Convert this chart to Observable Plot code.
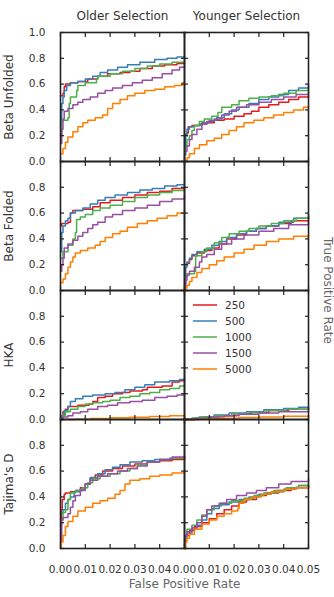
<!DOCTYPE html>
<html><head><meta charset="utf-8">
<script src="https://cdn.jsdelivr.net/npm/d3@7"></script>
<script src="https://cdn.jsdelivr.net/npm/@observablehq/plot@0.6"></script>
<style>
body{margin:0;background:#fff;}
#chart{position:relative;width:334px;height:597px;font-family:"DejaVu Sans",sans-serif;}
#legend{position:absolute;left:193px;top:297px;font-size:10.5px;color:#333;}
#legend .item{display:flex;align-items:center;height:16px;}
#legend svg{margin-right:8px;}
</style>
</head><body><div id="chart"></div>
<script>
const columns = ["Older Selection", "Younger Selection"];
const rows = ["Beta Unfolded", "Beta Folded", "HKA", "Tajima's D"];
const sizes = ["250", "500", "1000", "1500", "5000"];
const colors = ["#e41a1c", "#377eb8", "#4daf4a", "#984ea3", "#ff7f00"];
const xTickLabels = [0, 0.01, 0.02, 0.03, 0.04];
const xTickLabelsLast = [0.05];
const xTickMarks = [0, 0.01, 0.02, 0.03, 0.04, 0.05];
const yTickLabels = [0, 0.2, 0.4, 0.6, 0.8];
const yTickLabelsTop = [1.0];
const yTickMarks = [0, 0.2, 0.4, 0.6, 0.8, 1.0];
const xLabel = "False Positive Rate";
const yLabel = "True Positive Rate";

// [fpr, tpr] pairs
const betaUnfoldedOlder = {
  "250": [[0,0.51],[0.001,0.53],[0.0015,0.58],[0.002,0.6],[0.004,0.61],[0.007,0.62],[0.011,0.64],[0.015,0.66],[0.019,0.68],[0.024,0.69],[0.028,0.7],[0.032,0.72],[0.037,0.74],[0.042,0.75],[0.047,0.76],[0.05,0.77]],
  "500": [[0,0.3],[0.0005,0.45],[0.001,0.5],[0.0015,0.55],[0.0025,0.59],[0.004,0.61],[0.007,0.62],[0.01,0.64],[0.013,0.66],[0.016,0.69],[0.019,0.71],[0.023,0.73],[0.027,0.75],[0.032,0.77],[0.038,0.79],[0.043,0.8],[0.047,0.81],[0.05,0.82]],
  "1000": [[0,0.2],[0.0005,0.32],[0.003,0.34],[0.0035,0.45],[0.004,0.5],[0.0065,0.55],[0.007,0.59],[0.01,0.61],[0.0145,0.64],[0.015,0.66],[0.02,0.68],[0.025,0.7],[0.03,0.72],[0.035,0.74],[0.04,0.755],[0.045,0.77],[0.05,0.78]],
  "1500": [[0,0.14],[0.0005,0.25],[0.001,0.33],[0.0015,0.39],[0.003,0.41],[0.005,0.44],[0.007,0.46],[0.009,0.48],[0.012,0.5],[0.015,0.53],[0.018,0.55],[0.021,0.57],[0.025,0.59],[0.029,0.61],[0.033,0.63],[0.037,0.65],[0.041,0.68],[0.045,0.71],[0.048,0.73],[0.05,0.74]],
  "5000": [[0,0.06],[0.001,0.1],[0.002,0.15],[0.003,0.19],[0.005,0.23],[0.007,0.27],[0.009,0.3],[0.011,0.32],[0.014,0.34],[0.017,0.36],[0.019,0.41],[0.021,0.45],[0.024,0.48],[0.027,0.51],[0.03,0.53],[0.034,0.55],[0.038,0.56],[0.042,0.58],[0.046,0.59],[0.049,0.61],[0.05,0.61]]
};
const betaUnfoldedYounger = {
  "250": [[0,0.21],[0.001,0.22],[0.0015,0.27],[0.003,0.28],[0.006,0.29],[0.009,0.3],[0.012,0.32],[0.016,0.33],[0.02,0.35],[0.024,0.37],[0.027,0.39],[0.03,0.42],[0.034,0.44],[0.038,0.46],[0.042,0.48],[0.046,0.5],[0.05,0.51]],
  "500": [[0,0.1],[0.0005,0.2],[0.001,0.25],[0.002,0.27],[0.004,0.28],[0.007,0.3],[0.01,0.32],[0.013,0.34],[0.016,0.37],[0.019,0.4],[0.022,0.42],[0.026,0.45],[0.03,0.48],[0.034,0.5],[0.038,0.52],[0.042,0.55],[0.046,0.57],[0.05,0.6]],
  "1000": [[0,0.08],[0.0005,0.12],[0.001,0.17],[0.002,0.2],[0.003,0.24],[0.004,0.28],[0.006,0.31],[0.008,0.33],[0.011,0.35],[0.0135,0.38],[0.015,0.42],[0.019,0.44],[0.022,0.47],[0.026,0.49],[0.03,0.5],[0.035,0.51],[0.04,0.53],[0.045,0.55],[0.05,0.565]],
  "1500": [[0,0.05],[0.0005,0.08],[0.001,0.12],[0.002,0.17],[0.003,0.21],[0.005,0.25],[0.007,0.29],[0.009,0.31],[0.012,0.33],[0.015,0.36],[0.018,0.39],[0.021,0.42],[0.025,0.44],[0.03,0.46],[0.035,0.48],[0.04,0.5],[0.045,0.52],[0.05,0.54]],
  "5000": [[0,0],[0.001,0.03],[0.002,0.06],[0.004,0.1],[0.006,0.13],[0.009,0.16],[0.012,0.18],[0.015,0.21],[0.018,0.24],[0.021,0.27],[0.024,0.3],[0.028,0.32],[0.032,0.34],[0.036,0.36],[0.04,0.38],[0.044,0.4],[0.048,0.42],[0.05,0.43]]
};
const betaFoldedOlder = {
  "250": [[0,0.5],[0.0005,0.52],[0.003,0.53],[0.004,0.6],[0.005,0.62],[0.009,0.63],[0.013,0.65],[0.016,0.68],[0.02,0.7],[0.025,0.72],[0.03,0.74],[0.035,0.76],[0.04,0.77],[0.045,0.79],[0.05,0.8]],
  "500": [[0,0.3],[0.0005,0.45],[0.001,0.5],[0.002,0.54],[0.003,0.56],[0.004,0.6],[0.006,0.62],[0.009,0.64],[0.012,0.67],[0.015,0.7],[0.018,0.72],[0.022,0.74],[0.027,0.76],[0.032,0.78],[0.037,0.79],[0.042,0.81],[0.047,0.82],[0.05,0.83]],
  "1000": [[0,0.25],[0.001,0.3],[0.003,0.35],[0.005,0.4],[0.006,0.45],[0.0065,0.55],[0.008,0.57],[0.01,0.59],[0.013,0.62],[0.016,0.64],[0.02,0.66],[0.025,0.69],[0.03,0.72],[0.035,0.74],[0.04,0.76],[0.045,0.775],[0.05,0.79]],
  "1500": [[0,0.15],[0.0005,0.2],[0.001,0.25],[0.0015,0.33],[0.003,0.36],[0.005,0.39],[0.007,0.42],[0.009,0.45],[0.011,0.48],[0.013,0.51],[0.015,0.53],[0.018,0.57],[0.021,0.59],[0.025,0.62],[0.03,0.64],[0.035,0.66],[0.04,0.69],[0.045,0.71],[0.05,0.735]],
  "5000": [[0,0.06],[0.001,0.09],[0.002,0.13],[0.003,0.18],[0.004,0.22],[0.005,0.26],[0.006,0.29],[0.008,0.31],[0.011,0.33],[0.014,0.35],[0.016,0.38],[0.018,0.41],[0.021,0.44],[0.024,0.46],[0.027,0.49],[0.031,0.52],[0.035,0.54],[0.039,0.56],[0.043,0.58],[0.047,0.6],[0.05,0.62]]
};
const betaFoldedYounger = {
  "250": [[0,0.2],[0.001,0.21],[0.002,0.24],[0.003,0.27],[0.005,0.29],[0.008,0.31],[0.011,0.33],[0.014,0.36],[0.017,0.4],[0.021,0.43],[0.025,0.46],[0.029,0.48],[0.033,0.5],[0.038,0.52],[0.043,0.54],[0.05,0.57]],
  "500": [[0,0.1],[0.0005,0.18],[0.001,0.22],[0.002,0.25],[0.003,0.28],[0.005,0.3],[0.008,0.32],[0.011,0.35],[0.014,0.38],[0.017,0.41],[0.021,0.44],[0.025,0.46],[0.029,0.48],[0.033,0.5],[0.038,0.53],[0.044,0.56],[0.05,0.59]],
  "1000": [[0,0.05],[0.0005,0.1],[0.001,0.13],[0.004,0.15],[0.0045,0.27],[0.007,0.3],[0.009,0.33],[0.012,0.37],[0.015,0.41],[0.018,0.44],[0.022,0.46],[0.026,0.48],[0.03,0.5],[0.035,0.52],[0.04,0.54],[0.045,0.56],[0.05,0.57]],
  "1500": [[0,0.03],[0.0005,0.08],[0.001,0.12],[0.002,0.15],[0.004,0.18],[0.006,0.22],[0.007,0.26],[0.009,0.28],[0.012,0.32],[0.015,0.36],[0.019,0.4],[0.024,0.43],[0.03,0.46],[0.036,0.48],[0.042,0.51],[0.05,0.54]],
  "5000": [[0,0],[0.0005,0.02],[0.001,0.04],[0.002,0.07],[0.003,0.1],[0.005,0.14],[0.007,0.17],[0.01,0.2],[0.013,0.23],[0.016,0.26],[0.02,0.29],[0.024,0.32],[0.028,0.35],[0.033,0.38],[0.038,0.4],[0.044,0.42],[0.05,0.43]]
};
const hkaOlder = {
  "250": [[0,0],[0.0005,0.03],[0.001,0.06],[0.002,0.08],[0.003,0.1],[0.007,0.11],[0.0115,0.12],[0.013,0.14],[0.015,0.17],[0.018,0.18],[0.021,0.2],[0.025,0.21],[0.028,0.22],[0.033,0.23],[0.035,0.25],[0.041,0.26],[0.045,0.29],[0.048,0.3],[0.05,0.32]],
  "500": [[0,0],[0.0005,0.03],[0.0015,0.07],[0.003,0.1],[0.004,0.14],[0.006,0.16],[0.009,0.18],[0.013,0.19],[0.018,0.2],[0.022,0.21],[0.026,0.23],[0.03,0.25],[0.034,0.27],[0.038,0.29],[0.044,0.3],[0.048,0.31],[0.05,0.32]],
  "1000": [[0,0],[0.001,0.03],[0.002,0.06],[0.004,0.08],[0.007,0.1],[0.01,0.12],[0.013,0.13],[0.017,0.14],[0.02,0.15],[0.024,0.17],[0.028,0.18],[0.032,0.2],[0.036,0.21],[0.04,0.23],[0.044,0.24],[0.048,0.26],[0.05,0.27]],
  "1500": [[0,0],[0.001,0.02],[0.003,0.03],[0.005,0.05],[0.008,0.06],[0.011,0.08],[0.015,0.1],[0.019,0.11],[0.023,0.13],[0.028,0.14],[0.033,0.15],[0.038,0.17],[0.043,0.18],[0.047,0.19],[0.05,0.2]],
  "5000": [[0,0],[0.006,0.002],[0.012,0.008],[0.02,0.013],[0.028,0.018],[0.036,0.024],[0.044,0.03],[0.05,0.035]]
};
const hkaYounger = {
  "250": [[0,0],[0.004,0.01],[0.008,0.02],[0.014,0.03],[0.02,0.045],[0.027,0.055],[0.034,0.07],[0.042,0.08],[0.05,0.085]],
  "500": [[0,0],[0.003,0.01],[0.006,0.02],[0.012,0.035],[0.018,0.05],[0.025,0.06],[0.032,0.075],[0.04,0.085],[0.046,0.095],[0.05,0.1]],
  "1000": [[0,0],[0.003,0.01],[0.007,0.02],[0.013,0.03],[0.019,0.045],[0.026,0.055],[0.033,0.07],[0.041,0.08],[0.05,0.09]],
  "1500": [[0,0],[0.005,0.01],[0.01,0.02],[0.016,0.03],[0.022,0.04],[0.03,0.05],[0.038,0.06],[0.05,0.07]],
  "5000": [[0,0],[0.006,0.005],[0.014,0.01],[0.022,0.015],[0.03,0.02],[0.04,0.025],[0.05,0.03]]
};
const tajimaOlder = {
  "250": [[0,0.1],[0.0003,0.3],[0.0007,0.38],[0.0015,0.42],[0.002,0.43],[0.004,0.44],[0.006,0.45],[0.008,0.47],[0.01,0.5],[0.012,0.54],[0.014,0.57],[0.017,0.6],[0.021,0.62],[0.025,0.64],[0.03,0.655],[0.035,0.67],[0.04,0.68],[0.045,0.69],[0.05,0.7]],
  "500": [[0,0.27],[0.001,0.3],[0.002,0.35],[0.003,0.38],[0.004,0.4],[0.0055,0.44],[0.008,0.46],[0.01,0.5],[0.012,0.55],[0.015,0.58],[0.018,0.61],[0.021,0.63],[0.024,0.65],[0.028,0.67],[0.033,0.68],[0.038,0.69],[0.044,0.7],[0.05,0.71]],
  "1000": [[0,0.22],[0.001,0.28],[0.002,0.3],[0.003,0.38],[0.004,0.43],[0.006,0.45],[0.009,0.47],[0.011,0.51],[0.013,0.54],[0.016,0.56],[0.02,0.58],[0.024,0.6],[0.028,0.62],[0.031,0.65],[0.035,0.67],[0.04,0.69],[0.045,0.7],[0.05,0.71]],
  "1500": [[0,0.05],[0.0005,0.22],[0.001,0.24],[0.003,0.27],[0.004,0.32],[0.005,0.37],[0.006,0.41],[0.008,0.45],[0.01,0.5],[0.012,0.53],[0.015,0.56],[0.019,0.58],[0.023,0.6],[0.027,0.62],[0.031,0.64],[0.035,0.67],[0.04,0.69],[0.045,0.71],[0.05,0.72]],
  "5000": [[0,0],[0.0003,0.05],[0.001,0.1],[0.002,0.17],[0.003,0.21],[0.005,0.25],[0.007,0.29],[0.01,0.32],[0.013,0.35],[0.016,0.37],[0.019,0.39],[0.022,0.42],[0.024,0.45],[0.026,0.5],[0.028,0.53],[0.032,0.54],[0.036,0.56],[0.04,0.57],[0.045,0.585],[0.05,0.6]]
};
const tajimaYounger = {
  "250": [[0,0.05],[0.0005,0.1],[0.002,0.14],[0.004,0.17],[0.007,0.2],[0.01,0.23],[0.013,0.27],[0.016,0.3],[0.019,0.33],[0.022,0.36],[0.025,0.38],[0.029,0.41],[0.033,0.43],[0.038,0.45],[0.043,0.47],[0.05,0.48]],
  "500": [[0,0.08],[0.001,0.12],[0.003,0.15],[0.005,0.18],[0.007,0.22],[0.009,0.27],[0.011,0.31],[0.014,0.34],[0.018,0.36],[0.022,0.38],[0.026,0.4],[0.03,0.42],[0.035,0.44],[0.04,0.46],[0.045,0.475],[0.05,0.49]],
  "1000": [[0,0.1],[0.001,0.15],[0.003,0.18],[0.005,0.22],[0.007,0.26],[0.009,0.3],[0.012,0.33],[0.015,0.35],[0.019,0.37],[0.024,0.39],[0.028,0.41],[0.032,0.43],[0.036,0.45],[0.041,0.47],[0.046,0.49],[0.05,0.5]],
  "1500": [[0,0.05],[0.0005,0.1],[0.001,0.13],[0.003,0.16],[0.005,0.2],[0.007,0.25],[0.009,0.3],[0.011,0.33],[0.014,0.35],[0.017,0.38],[0.021,0.41],[0.025,0.43],[0.029,0.45],[0.033,0.47],[0.038,0.5],[0.043,0.52],[0.05,0.54]],
  "5000": [[0,0],[0.0005,0.05],[0.001,0.08],[0.002,0.11],[0.004,0.15],[0.007,0.19],[0.01,0.22],[0.013,0.25],[0.016,0.27],[0.019,0.29],[0.0215,0.31],[0.022,0.35],[0.024,0.38],[0.027,0.4],[0.031,0.42],[0.035,0.44],[0.04,0.46],[0.045,0.47],[0.05,0.475]]
};

const panels = [
  [rows[0], columns[0], betaUnfoldedOlder], [rows[0], columns[1], betaUnfoldedYounger],
  [rows[1], columns[0], betaFoldedOlder], [rows[1], columns[1], betaFoldedYounger],
  [rows[2], columns[0], hkaOlder], [rows[2], columns[1], hkaYounger],
  [rows[3], columns[0], tajimaOlder], [rows[3], columns[1], tajimaYounger]
];
const table = panels.flatMap(([row, col, obj]) =>
  sizes.flatMap(size => obj[size].map(([fpr, tpr]) => ({row, col, size, fpr, tpr}))));

const dark = "#333";
const tickFont = 10.5;
const chart = Plot.plot({
  width: 334,
  height: 597,
  marginTop: 32,
  marginBottom: 49,
  marginLeft: 60,
  marginRight: 26,
  style: {fontFamily: "DejaVu Sans, sans-serif", fontSize: "10.5px", color: dark, background: "white"},
  x: {domain: [0, 0.05], axis: null},
  y: {domain: [0, 1], axis: null},
  fx: {domain: columns, padding: 0},
  fy: {domain: rows, padding: 0, axis: null},
  color: {domain: sizes, range: colors},
  marks: [
    Plot.line(table, {x: "fpr", y: "tpr", z: "size", stroke: "size", fx: "col", fy: "row", curve: "step-after", strokeWidth: 1.5}),
    Plot.frame({stroke: "#222", strokeWidth: 1.6}),
    Plot.axisX(xTickMarks, {anchor: "bottom", facetAnchor: null, tickSize: -4, fill: "none", stroke: "#222", strokeWidth: 1.2, label: null}),
    Plot.axisX(xTickMarks, {anchor: "top", facetAnchor: null, tickSize: -4, fill: "none", stroke: "#222", strokeWidth: 1.2, label: null}),
    Plot.axisY(yTickMarks, {anchor: "left", facetAnchor: null, tickSize: -4, fill: "none", stroke: "#222", strokeWidth: 1.2, label: null}),
    Plot.axisY(yTickMarks, {anchor: "right", facetAnchor: null, tickSize: -4, fill: "none", stroke: "#222", strokeWidth: 1.2, label: null}),
    Plot.axisX(xTickLabels, {anchor: "bottom", facetAnchor: "bottom", tickSize: 0, tickPadding: 17, tickFormat: ".2f", fill: dark, fontSize: tickFont, label: null}),
    Plot.text(xTickLabelsLast, {x: d => d, fx: () => columns[1], fy: () => rows[3], frameAnchor: "bottom", dy: 17, lineAnchor: "top", text: d => d.toFixed(2), fill: dark, fontSize: tickFont}),
    Plot.axisY(yTickLabels, {anchor: "left", facetAnchor: "left", tickSize: 0, tickPadding: 15, tickFormat: ".1f", fill: dark, fontSize: tickFont, label: null}),
    Plot.text(yTickLabelsTop, {y: d => d, fx: () => columns[0], fy: () => rows[0], frameAnchor: "left", dx: -15, textAnchor: "end", text: d => d.toFixed(1), fill: dark, fontSize: tickFont}),
    Plot.axisFx({anchor: "top", tickSize: 0, tickPadding: 13, label: null, fontSize: 12, fill: dark}),
    Plot.text(rows, {fy: d => d, fx: () => columns[0], frameAnchor: "left", dx: -51, rotate: -90, textAnchor: "middle", text: d => d, fontSize: 12, fill: dark}),
    Plot.text([xLabel], {facet: "super", frameAnchor: "bottom", dy: 39, lineAnchor: "bottom", text: d => d, fontSize: 12, fill: "#666"}),
    Plot.text([yLabel], {facet: "super", frameAnchor: "right", dx: 19, rotate: 90, textAnchor: "middle", text: d => d, fontSize: 12, fill: "#666"})
  ]
});

const container = document.getElementById("chart");
container.appendChild(chart);

const color = chart.scale("color");
const legend = d3.select(container).append("div").attr("id", "legend");
color.domain.forEach((s, i) => {
  const item = legend.append("div").attr("class", "item");
  const svg = item.append("svg").attr("width", 24).attr("height", 4);
  svg.append("line").attr("x1", 0).attr("x2", 24).attr("y1", 2).attr("y2", 2)
    .attr("stroke", color.range[i]).attr("stroke-width", 1.5);
  item.append("span").text(s);
});
</script>
</body></html>
